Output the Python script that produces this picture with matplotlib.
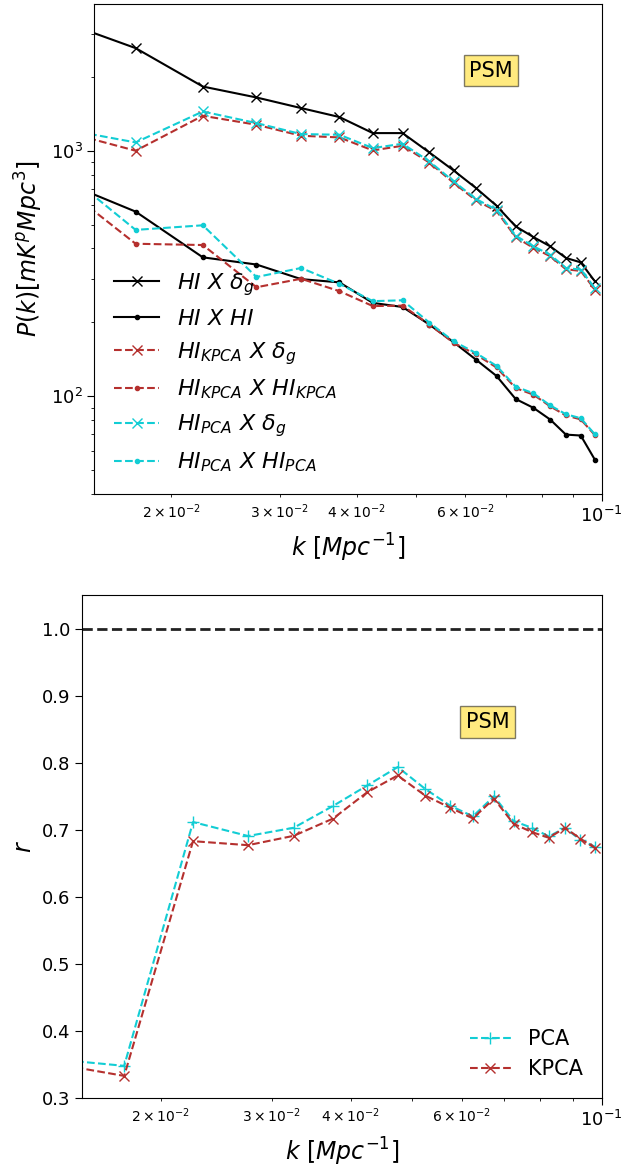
import matplotlib
matplotlib.use('Agg')
import matplotlib.pyplot as plt

# k bins [Mpc^-1]
k = [0.0125, 0.0175, 0.0225, 0.0275, 0.0325, 0.0375, 0.0425, 0.0475, 0.0525,
     0.0575, 0.0625, 0.0675, 0.0725, 0.0775, 0.0825, 0.0875, 0.0925, 0.0975]

# power spectra
p_hi_dg = [3550, 2618, 1826, 1648, 1492, 1372, 1180, 1180, 984,
           831, 705, 597, 492, 445, 408, 366, 351, 294]
p_hi_hi = [800, 565, 368, 344, 300, 291, 240, 231, 196,
           166, 141, 121, 97.5, 89.7, 80.4, 69.8, 69.2, 55.2]
p_kpca_dg = [1253, 1000, 1388, 1276, 1151, 1133, 1003, 1048, 895,
             740, 628, 568, 445, 402, 372, 329, 324, 272]
p_kpca_kpca = [811, 418, 413, 278, 301, 268, 233, 234, 196,
               165, 148, 131, 108, 101.5, 91, 83.5, 80.5, 69.5]
p_pca_dg = [1264, 1081, 1445, 1296, 1169, 1162, 1025, 1068, 905,
            750, 636, 575, 451, 408, 377, 333, 328, 276]
p_pca_pca = [946, 476, 497, 306, 333, 287, 244, 246, 199.5,
             167.4, 150, 133, 109.5, 102.8, 91.8, 84.5, 81.4, 70]

# cross-correlation coefficient
r_pca = [0.361, 0.348, 0.7115, 0.6907, 0.703, 0.7354, 0.766, 0.7935, 0.761,
         0.736, 0.720, 0.7498, 0.713, 0.703, 0.690, 0.703, 0.685, 0.675]
r_kpca = [0.357, 0.333, 0.683, 0.677, 0.691, 0.7166, 0.756, 0.781, 0.751,
          0.733, 0.717, 0.7464, 0.709, 0.6966, 0.688, 0.703, 0.6868, 0.673]

red = '#b5302e'
cyan = '#12cdd4'

plt.rcParams['xtick.labelsize'] = 13
plt.rcParams['ytick.labelsize'] = 13
plt.rcParams['xtick.major.size'] = 5
plt.rcParams['ytick.major.size'] = 5
plt.rcParams['xtick.minor.size'] = 2.5
plt.rcParams['ytick.minor.size'] = 2.5

fig = plt.figure(figsize=(6.22, 11.75), dpi=100)

# top panel: power spectra
ax1 = fig.add_axes([0.1518, 0.5796, 0.8154, 0.417])
ax1.plot(k, p_hi_dg, color='k', marker='x', ms=7, lw=1.5, label=r'$HI\ X\ \delta_g$')
ax1.plot(k, p_hi_hi, color='k', marker='.', ms=6, lw=1.5, label=r'$HI\ X\ HI$')
ax1.plot(k, p_kpca_dg, color=red, ls='--', marker='x', ms=7, lw=1.5,
         label=r'$HI_{KPCA}\ X\ \delta_g$')
ax1.plot(k, p_kpca_kpca, color=red, ls='--', marker='.', ms=6, lw=1.5,
         label=r'$HI_{KPCA}\ X\ HI_{KPCA}$')
ax1.plot(k, p_pca_dg, color=cyan, ls='--', marker='x', ms=7, lw=1.5,
         label=r'$HI_{PCA}\ X\ \delta_g$')
ax1.plot(k, p_pca_pca, color=cyan, ls='--', marker='.', ms=6, lw=1.5,
         label=r'$HI_{PCA}\ X\ HI_{PCA}$')
ax1.set_xscale('log')
ax1.set_yscale('log')
ax1.set_xlim(0.015, 0.1)
ax1.set_ylim(40, 3960)
ax1.tick_params(axis='x', which='minor', labelsize=10)
ax1.set_xlabel(r'$k\ [Mpc^{-1}]$', fontsize=17)
ax1.set_ylabel(r'$P(k)[mK^{p}Mpc^{3}]$', fontsize=17)
ax1.legend(loc='lower left', frameon=False, fontsize=16)
ax1.text(0.782, 0.864, 'PSM', transform=ax1.transAxes, fontsize=15,
         ha='center', va='center', bbox=dict(facecolor='gold', alpha=0.5))

# bottom panel: correlation coefficient
ax2 = fig.add_axes([0.1318, 0.0655, 0.8354, 0.4281])
ax2.plot(k, r_pca, color=cyan, ls='--', marker='+', ms=8, lw=1.5, label='PCA')
ax2.plot(k, r_kpca, color=red, ls='--', marker='x', ms=7, lw=1.5, label='KPCA')
ax2.axhline(1.0, color='#222222', ls='--', lw=2)
ax2.set_xscale('log')
ax2.set_xlim(0.015, 0.1)
ax2.set_ylim(0.3, 1.05)
ax2.tick_params(axis='x', which='minor', labelsize=10)
ax2.set_xlabel(r'$k\ [Mpc^{-1}]$', fontsize=17)
ax2.set_ylabel(r'$r$', fontsize=17)
ax2.legend(loc='lower right', frameon=False, fontsize=15)
ax2.text(0.781, 0.7475, 'PSM', transform=ax2.transAxes, fontsize=15,
         ha='center', va='center', bbox=dict(facecolor='gold', alpha=0.5))

fig.savefig('out.png', dpi=100)
